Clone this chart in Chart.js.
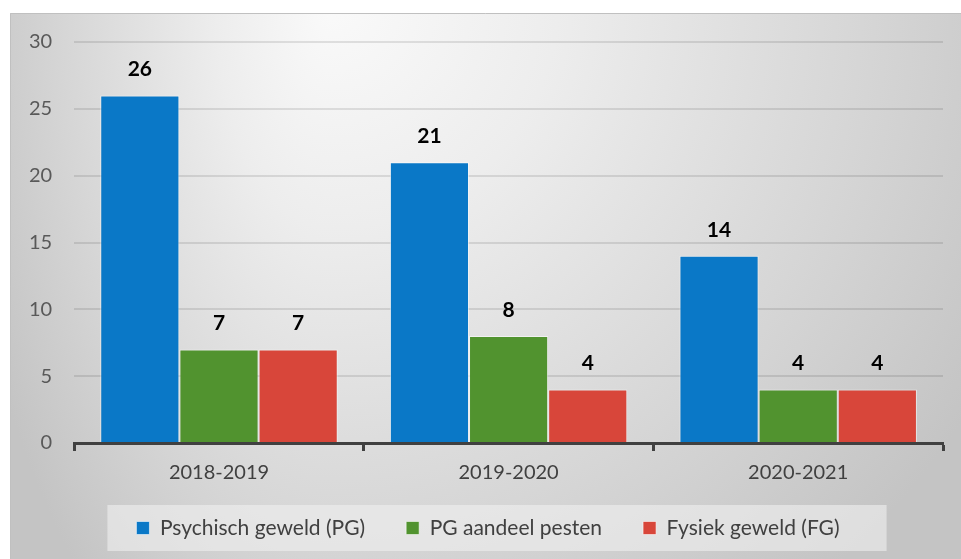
<!DOCTYPE html>
<html>
<head>
<meta charset="utf-8">
<script src="https://cdn.jsdelivr.net/npm/chart.js@4/dist/chart.umd.min.js"></script>
<style>
  html, body { margin: 0; padding: 0; background: #fff; }
  #wrap { width: 961px; height: 559px; }
</style>
</head>
<body>
<div id="wrap"><canvas id="chart" width="961" height="559"></canvas></div>
<script>
// school years on the x axis
const years = ['2018-2019', '2019-2020', '2020-2021'];

// counts per series
const psychischGeweld = [26, 21, 14];
const pgAandeelPesten = [7, 8, 4];
const fysiekGeweld = [7, 4, 4];

const seriesNames = ['Psychisch geweld (PG)', 'PG aandeel pesten', 'Fysiek geweld (FG)'];
const seriesColors = ['#0a78c7', '#51932f', '#d8463a'];

const FONT = 'Lato, "Noto Sans", sans-serif';

// gradient panel behind the chart + light box behind the legend
const backdrop = {
    id: 'backdrop',
    beforeDraw(chart) {
        const ctx = chart.ctx;
        const w = chart.width, h = chart.height;
        ctx.save();
        ctx.fillStyle = '#ffffff';
        ctx.fillRect(0, 0, w, h);

        const cx = 330, cy = 0, r = 760;
        const halves = [[10, cx, 0.5], [cx, w, 1]];
        halves.forEach(function(hf) {
            ctx.save();
            ctx.beginPath();
            ctx.rect(hf[0], 13, hf[1] - hf[0], h - 13);
            ctx.clip();
            ctx.translate(cx, cy);
            ctx.scale(hf[2], 1);
            const g = ctx.createRadialGradient(0, 0, 0, 0, 0, r);
            g.addColorStop(0, '#fafafa');
            g.addColorStop(0.3, '#ededed');
            g.addColorStop(0.7, '#d6d6d6');
            g.addColorStop(1, '#c4c4c4');
            ctx.fillStyle = g;
            ctx.fillRect(-2000, -100, 4000, 2000);
            ctx.restore();
        });

        ctx.strokeStyle = '#c0c0c0';
        ctx.lineWidth = 1;
        ctx.beginPath();
        ctx.moveTo(10.5, h);
        ctx.lineTo(10.5, 13.5);
        ctx.lineTo(w, 13.5);
        ctx.stroke();

        // legend box
        const boxes = chart.legend && chart.legend.legendHitBoxes;
        if (boxes && boxes.length) {
            const first = boxes[0], last = boxes[boxes.length - 1];
            const shift = chart.legend._shiftX || 0;
            const x0 = first.left + shift - 42;
            const x1 = last.left + last.width + shift + 34;
            ctx.fillStyle = 'rgba(240,240,240,0.6)';
            ctx.fillRect(x0, 505, x1 - x0, 46);
        }
        ctx.restore();
    }
};

// push the legend up and a bit right into place
const legendShift = {
    id: 'legendShift',
    afterLayout(chart) {
        const lg = chart.legend;
        const pad = chart.options.plugins.legend.labels.padding;
        const h = lg.height;
        lg.top = 528 - pad - 10.5;
        lg.bottom = lg.top + h;
        lg._shiftX = 13;
        lg.left += 13;
        lg.right += 13;
    }
};

// values above the bars
const barValues = {
    id: 'barValues',
    afterDatasetsDraw(chart) {
        const ctx = chart.ctx;
        ctx.save();
        ctx.font = 'bold 21px ' + FONT;
        ctx.fillStyle = '#000';
        ctx.textAlign = 'center';
        ctx.textBaseline = 'middle';
        chart.data.datasets.forEach(function(ds, i) {
            chart.getDatasetMeta(i).data.forEach(function(bar, j) {
                ctx.fillText(ds.data[j], bar.x, bar.y - 26);
            });
        });
        ctx.restore();
    }
};

new Chart(document.getElementById('chart').getContext('2d'), {
    type: 'bar',
    data: {
        labels: years,
        datasets: [psychischGeweld, pgAandeelPesten, fysiekGeweld].map(function(d, i) {
            return {
                label: seriesNames[i],
                data: d,
                backgroundColor: seriesColors[i],
                borderColor: 'rgba(255,255,255,0.55)',
                borderWidth: 1,
                categoryPercentage: 0.82,
                barPercentage: 1
            };
        })
    },
    options: {
        responsive: false,
        animation: false,
        devicePixelRatio: 1,
        layout: { padding: { left: 7, right: 18, top: 42, bottom: 0 } },
        plugins: {
            tooltip: { enabled: false },
            legend: {
                position: 'bottom',
                maxHeight: 64,
                labels: {
                    boxWidth: 13,
                    boxHeight: 13,
                    padding: 41,
                    color: '#404040',
                    font: { family: FONT, size: 21 }
                }
            }
        },
        scales: {
            x: {
                offset: true,
                grid: {
                    drawOnChartArea: false,
                    drawTicks: true,
                    tickLength: 8,
                    tickColor: '#404040',
                    tickWidth: 3
                },
                border: { display: true, color: '#404040', width: 3 },
                ticks: {
                    padding: 10,
                    color: '#404040',
                    font: { family: FONT, size: 20 }
                }
            },
            y: {
                min: 0,
                max: 30,
                ticks: {
                    stepSize: 5,
                    padding: 22,
                    color: '#595959',
                    font: { family: FONT, size: 20 }
                },
                grid: {
                    drawTicks: false,
                    color: 'rgba(0,0,0,0.1)',
                    lineWidth: 2
                },
                border: { display: false }
            }
        }
    },
    plugins: [backdrop, legendShift, barValues]
});
</script>
</body>
</html>
